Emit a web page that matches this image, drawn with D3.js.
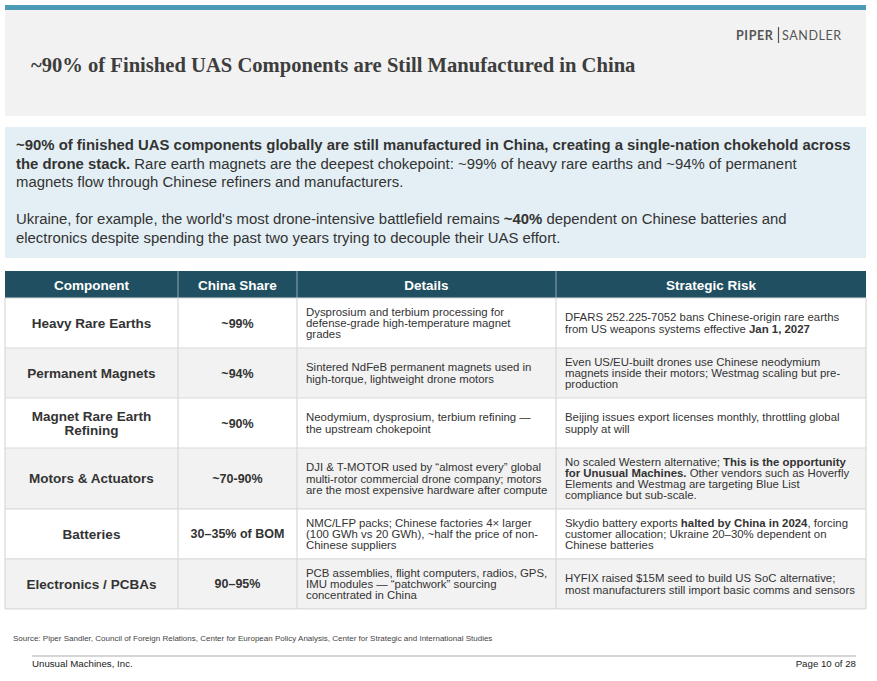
<!DOCTYPE html>
<html>
<head>
<meta charset="utf-8">
<script src="https://cdn.jsdelivr.net/npm/d3@7"></script>
<style>
  body { margin: 0; background: #fff; }
  svg { display: block; }
</style>
</head>
<body>
<svg id="slide" width="877" height="681"></svg>
<script>
// slide text
const slideTitle = "~90% of Finished UAS Components are Still Manufactured in China";
const introLines = [
  "**~90% of finished UAS components globally are still manufactured in China, creating a single-nation chokehold across**",
  "**the drone stack.** Rare earth magnets are the deepest chokepoint: ~99% of heavy rare earths and ~94% of permanent",
  "magnets flow through Chinese refiners and manufacturers.",
  "",
  "Ukraine, for example, the world's most drone-intensive battlefield remains **~40%** dependent on Chinese batteries and",
  "electronics despite spending the past two years trying to decouple their UAS effort."
];

// table data
const columns = ["Component", "China Share", "Details", "Strategic Risk"];
const components = [
  ["Heavy Rare Earths"],
  ["Permanent Magnets"],
  ["Magnet Rare Earth", "Refining"],
  ["Motors & Actuators"],
  ["Batteries"],
  ["Electronics / PCBAs"]
];
const chinaShares = ["~99%", "~94%", "~90%", "~70-90%", "30–35% of BOM", "90–95%"];
const details = [
  ["Dysprosium and terbium processing for", "defense-grade high-temperature magnet", "grades"],
  ["Sintered NdFeB permanent magnets used in", "high-torque, lightweight drone motors"],
  ["Neodymium, dysprosium, terbium refining —", "the upstream chokepoint"],
  ["DJI & T-MOTOR used by “almost every” global", "multi-rotor commercial drone company; motors", "are the most expensive hardware after compute"],
  ["NMC/LFP packs; Chinese factories 4× larger", "(100 GWh vs 20 GWh), ~half the price of non-", "Chinese suppliers"],
  ["PCB assemblies, flight computers, radios, GPS,", "IMU modules — “patchwork” sourcing", "concentrated in China"]
];
const risks = [
  ["DFARS 252.225-7052 bans Chinese-origin rare earths", "from US weapons systems effective **Jan 1, 2027**"],
  ["Even US/EU-built drones use Chinese neodymium", "magnets inside their motors; Westmag scaling but pre-", "production"],
  ["Beijing issues export licenses monthly, throttling global", "supply at will"],
  ["No scaled Western alternative; **This is the opportunity**", "**for Unusual Machines.** Other vendors such as Hoverfly", "Elements and Westmag are targeting Blue List", "compliance but sub-scale."],
  ["Skydio battery exports **halted by China in 2024**, forcing", "customer allocation; Ukraine 20–30% dependent on", "Chinese batteries"],
  ["HYFIX raised $15M seed to build US SoC alternative;", "most manufacturers still import basic comms and sensors"]
];
const sourceNote = "Source: Piper Sandler, Council of Foreign Relations, Center for European Policy Analysis, Center for Strategic and International Studies";
const footerLeft = "Unusual Machines, Inc.";
const footerRight = "Page 10 of 28";

const W = 877, H = 681;
const sans = "'Liberation Sans', Arial, sans-serif";
const svg = d3.select("#slide");

svg.append("rect").attr("width", W).attr("height", H).attr("fill", "#fff");

// writes "**bold**" segments as tspans
function richLine(sel, line) {
  line.split(/(\*\*[^*]+\*\*)/).filter(s => s.length).forEach(seg => {
    const bold = seg.startsWith("**");
    sel.append("tspan")
      .attr("font-weight", bold ? "bold" : null)
      .text(bold ? seg.slice(2, -2) : seg);
  });
}

// ---- header band
svg.append("rect").attr("x", 5).attr("y", 5).attr("width", 861).attr("height", 5).attr("fill", "#4b9bb7");
svg.append("rect").attr("x", 5).attr("y", 10).attr("width", 861).attr("height", 106).attr("fill", "#f2f2f2");

svg.append("text")
  .attr("x", 31).attr("y", 72)
  .attr("font-family", "'Liberation Serif', 'Times New Roman', serif")
  .attr("font-weight", "bold")
  .attr("font-size", 20.6)
  .attr("fill", "#3d3d3d")
  .text(slideTitle);

const logo = svg.append("g").attr("font-family", "Lato, 'Open Sans', sans-serif").attr("font-size", 12.5).attr("fill", "#555");
logo.append("text").attr("x", 736).attr("y", 40).attr("font-weight", "bold").attr("letter-spacing", 0.6).text("PIPER");
logo.append("line").attr("x1", 778.5).attr("x2", 778.5).attr("y1", 27).attr("y2", 43).attr("stroke", "#555").attr("stroke-width", 1.2);
logo.append("text").attr("x", 782).attr("y", 40).attr("letter-spacing", 0.6).text("SANDLER");

// ---- intro box
svg.append("rect").attr("x", 5).attr("y", 127).attr("width", 861).attr("height", 131).attr("fill", "#e3eff4");
const intro = svg.append("g").attr("font-family", sans).attr("font-size", 14.9).attr("fill", "#333");
introLines.forEach((ln, i) => {
  if (!ln) return;
  const t = intro.append("text").attr("x", 16).attr("y", 150 + i * 18.6);
  richLine(t, ln);
});

// ---- table
const colEdges = [5, 178, 297, 556, 866];
const headTop = 271, headH = 27;
const lineH = 11.3;
const rowHeights = components.map((c, i) =>
  Math.max(50, Math.max(details[i].length, risks[i].length) * lineH * 1.08 + 12));
const rowY = [headTop + headH];
rowHeights.forEach(h => rowY.push(rowY[rowY.length - 1] + h));

const table = svg.append("g");

// header
table.append("rect").attr("x", colEdges[0]).attr("y", headTop).attr("width", colEdges[4] - colEdges[0]).attr("height", headH).attr("fill", "#1f4f60");
table.selectAll("text.head").data(columns).join("text")
  .attr("class", "head")
  .attr("x", (d, i) => (colEdges[i] + colEdges[i + 1]) / 2)
  .attr("y", headTop + headH / 2 + 5)
  .attr("text-anchor", "middle")
  .attr("font-family", sans).attr("font-weight", "bold").attr("font-size", 13.5)
  .attr("fill", "#fff")
  .text(d => d);
table.selectAll("line.hsep").data(colEdges.slice(1, -1)).join("line")
  .attr("class", "hsep")
  .attr("x1", d => d).attr("x2", d => d)
  .attr("y1", headTop).attr("y2", headTop + headH)
  .attr("stroke", "#8fa7b0").attr("stroke-width", 1);

// body rows
const rows = table.selectAll("g.row").data(components).join("g").attr("class", "row");
rows.append("rect")
  .attr("x", colEdges[0]).attr("width", colEdges[4] - colEdges[0])
  .attr("y", (d, i) => rowY[i]).attr("height", (d, i) => rowHeights[i])
  .attr("fill", (d, i) => i % 2 ? "#f2f2f2" : "#fff");

// grid lines
table.selectAll("line.rsep").data(rowY).join("line")
  .attr("class", "rsep")
  .attr("x1", colEdges[0]).attr("x2", colEdges[4])
  .attr("y1", d => d).attr("y2", d => d)
  .attr("stroke", "#d9d9d9").attr("stroke-width", 1.2);
table.selectAll("line.csep").data(colEdges).join("line")
  .attr("class", "csep")
  .attr("x1", d => d).attr("x2", d => d)
  .attr("y1", headTop + headH).attr("y2", rowY[rowY.length - 1])
  .attr("stroke", "#d9d9d9").attr("stroke-width", 1.2);

function cellLines(g, lines, x, yMid, anchor, size, lh, weight) {
  const y0 = yMid - (lines.length - 1) * lh / 2;
  lines.forEach((ln, k) => {
    const t = g.append("text")
      .attr("x", x).attr("y", y0 + k * lh + size * 0.36)
      .attr("text-anchor", anchor)
      .attr("font-family", sans).attr("font-size", size)
      .attr("font-weight", weight)
      .attr("fill", "#333");
    richLine(t, ln);
  });
}

rows.each(function (d, i) {
  const g = d3.select(this);
  const mid = rowY[i] + rowHeights[i] / 2;
  cellLines(g, components[i], (colEdges[0] + colEdges[1]) / 2, mid, "middle", 13.5, 13.6, "bold");
  cellLines(g, [chinaShares[i]], (colEdges[1] + colEdges[2]) / 2, mid, "middle", 12.5, 12, "bold");
  cellLines(g, details[i], colEdges[2] + 9, mid, "start", 11.4, lineH, null);
  cellLines(g, risks[i], colEdges[3] + 9, mid, "start", 11.4, lineH, null);
});

// ---- footer
svg.append("text").attr("x", 13).attr("y", 641)
  .attr("font-family", sans).attr("font-size", 8).attr("fill", "#444")
  .text(sourceNote);
svg.append("line").attr("x1", 32).attr("x2", 856).attr("y1", 656).attr("y2", 656)
  .attr("stroke", "#c8c8c8").attr("stroke-width", 1.5);
svg.append("text").attr("x", 32).attr("y", 667)
  .attr("font-family", sans).attr("font-size", 9.7).attr("fill", "#222")
  .text(footerLeft);
svg.append("text").attr("x", 856).attr("y", 667).attr("text-anchor", "end")
  .attr("font-family", sans).attr("font-size", 9.7).attr("fill", "#222")
  .text(footerRight);
</script>
</body>
</html>
